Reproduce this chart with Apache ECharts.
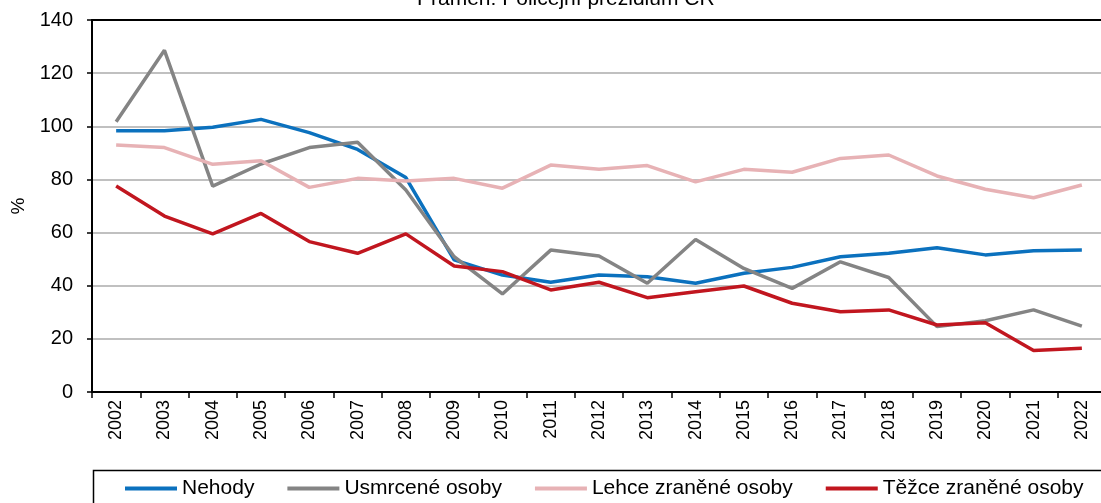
<!DOCTYPE html>
<html>
<head>
<meta charset="utf-8">
<script src="https://cdn.jsdelivr.net/npm/echarts@6/dist/echarts.min.js"></script>
<style>
html, body { margin: 0; padding: 0; background: #fff; }
#chart { width: 1101px; height: 503px; }
</style>
</head>
<body>
<div id="chart"></div>
<script>
const years = ['2002', '2003', '2004', '2005', '2006', '2007', '2008', '2009', '2010', '2011', '2012',
    '2013', '2014', '2015', '2016', '2017', '2018', '2019', '2020', '2021', '2022']

const nehody = [98.3, 98.3, 99.6, 102.6, 97.6, 91.3, 80.7, 49.7, 44.0, 41.3, 44.0,
    43.4, 40.9, 44.7, 46.9, 50.9, 52.2, 54.3, 51.6, 53.2, 53.4]
const usmrcene = [101.7, 128.6, 77.5, 85.8, 92.0, 94.0, 76.0, 50.9, 36.9, 53.4, 51.2,
    40.9, 57.4, 46.5, 39.0, 49.0, 43.1, 24.6, 26.8, 30.9, 24.8]
const lehce = [93.0, 92.0, 85.7, 87.0, 77.0, 80.4, 79.4, 80.4, 76.7, 85.4, 83.8,
    85.2, 79.1, 83.8, 82.7, 87.9, 89.2, 81.3, 76.3, 73.1, 77.9]
const tezce = [77.5, 66.2, 59.5, 67.2, 56.6, 52.2, 59.5, 47.4, 45.3, 38.4, 41.3,
    35.5, 37.7, 39.9, 33.4, 30.2, 30.9, 25.2, 26.1, 15.6, 16.5]

const seriesNames = ['Nehody', 'Usmrcené osoby', 'Lehce zraněné osoby', 'Těžce zraněné osoby']
const seriesColors = ['#0b71be', '#848484', '#e7b2b5', '#c1161f']

const font = 'Liberation Sans, Arial, sans-serif'

const makeLine = (name, data, color) => ({
    name: name,
    type: 'line',
    data: data,
    showSymbol: false,
    symbol: 'none',
    lineStyle: { color: color, width: 3.5 },
    itemStyle: { color: color }
})

const option = {
    animation: false,
    title: {
        text: 'Pramen: Policejní prezidium ČR',
        left: 412,
        top: -16,
        textStyle: { fontFamily: font, fontSize: 21, fontWeight: 'normal', color: '#000' }
    },
    legend: {
        left: 125,
        top: 478,
        padding: 0,
        itemGap: 33,
        itemWidth: 52,
        itemHeight: 4,
        icon: 'rect',
        textStyle: { fontFamily: font, fontSize: 21, color: '#000' },
        data: seriesNames
    },
    graphic: [
        {
            type: 'rect',
            shape: { x: 93.5, y: 470.5, width: 1030, height: 60 },
            style: { fill: 'none', stroke: '#000', lineWidth: 1.5 }
        }
    ],
    grid: {
        left: 92,
        top: 20,
        width: 1014,
        bottom: 111,
        containLabel: false,
        outerBoundsMode: 'none'
    },
    xAxis: [
        {
            type: 'category',
            data: years,
            boundaryGap: true,
            axisLine: { lineStyle: { color: '#000', width: 2 } },
            axisTick: { show: true, length: 6, lineStyle: { color: '#000', width: 1.5 } },
            axisLabel: {
                rotate: 90,
                margin: 8,
                interval: 0,
                color: '#000',
                fontFamily: font,
                fontSize: 18
            }
        },
        {
            type: 'category',
            data: years,
            position: 'top',
            axisLine: { lineStyle: { color: '#000', width: 2 } },
            axisTick: { show: false },
            axisLabel: { show: false }
        }
    ],
    yAxis: {
        type: 'value',
        min: 0,
        max: 140,
        interval: 20,
        name: '%',
        nameLocation: 'middle',
        nameGap: 64,
        nameRotate: 90,
        nameTextStyle: { fontFamily: font, fontSize: 19, color: '#000' },
        axisLine: { show: true, lineStyle: { color: '#000', width: 2 } },
        axisTick: { show: true, length: 5, lineStyle: { color: '#000', width: 1.5 } },
        axisLabel: { margin: 19, color: '#000', fontFamily: font, fontSize: 20 },
        splitLine: { lineStyle: { color: '#c0c0c0', width: 2 } }
    },
    series: [
        makeLine(seriesNames[0], nehody, seriesColors[0]),
        makeLine(seriesNames[1], usmrcene, seriesColors[1]),
        makeLine(seriesNames[2], lehce, seriesColors[2]),
        makeLine(seriesNames[3], tezce, seriesColors[3])
    ]
}

const myChart = echarts.init(document.getElementById('chart'))
myChart.setOption(option)
</script>
</body>
</html>
